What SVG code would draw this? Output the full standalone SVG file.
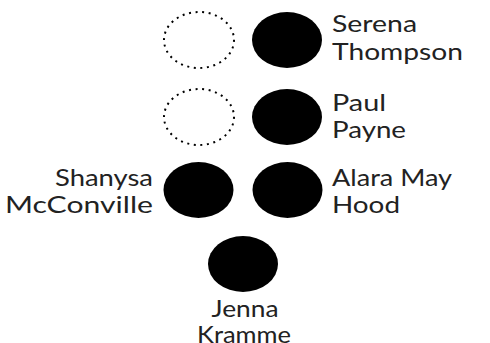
<svg xmlns="http://www.w3.org/2000/svg" width="490" height="343" viewBox="0 0 490 343">
<style>
.f{fill:#000}
.d{fill:none;stroke:#000;stroke-width:2;stroke-dasharray:2 4.6}
text{font-family:Lato,"Open Sans",sans-serif;font-size:24px;font-weight:400;fill:#222}
</style>
<rect width="490" height="343" fill="#fff"/>
<g id="connectors"></g>
<g id="ghost1"><ellipse class="d" cx="199" cy="40" rx="35" ry="28"/></g>
<g id="ghost2"><ellipse class="d" cx="199" cy="117" rx="35" ry="28"/></g>
<g id="serena"><ellipse class="f" cx="287" cy="40" rx="35" ry="28"/>
<text x="332" y="32" textLength="85" lengthAdjust="spacingAndGlyphs">Serena</text>
<text x="332" y="60" textLength="131" lengthAdjust="spacingAndGlyphs">Thompson</text></g>
<g id="paul"><ellipse class="f" cx="287" cy="117" rx="35" ry="28"/>
<text x="332" y="111" textLength="54" lengthAdjust="spacingAndGlyphs">Paul</text>
<text x="332" y="138" textLength="74" lengthAdjust="spacingAndGlyphs">Payne</text></g>
<g id="shanysa"><ellipse class="f" cx="198.5" cy="190" rx="35" ry="28"/>
<text x="55" y="186" textLength="98" lengthAdjust="spacingAndGlyphs">Shanysa</text>
<text x="5" y="213" textLength="148" lengthAdjust="spacingAndGlyphs">McConville</text></g>
<g id="alara"><ellipse class="f" cx="287.5" cy="190" rx="35" ry="28"/>
<text x="332" y="186" textLength="120" lengthAdjust="spacingAndGlyphs">Alara May</text>
<text x="332" y="213" textLength="68" lengthAdjust="spacingAndGlyphs">Hood</text></g>
<g id="jenna"><ellipse class="f" cx="243" cy="264" rx="35" ry="28"/>
<text x="211.5" y="317" textLength="67" lengthAdjust="spacingAndGlyphs">Jenna</text>
<text x="197" y="343" textLength="94" lengthAdjust="spacingAndGlyphs">Kramme</text></g>
</svg>
